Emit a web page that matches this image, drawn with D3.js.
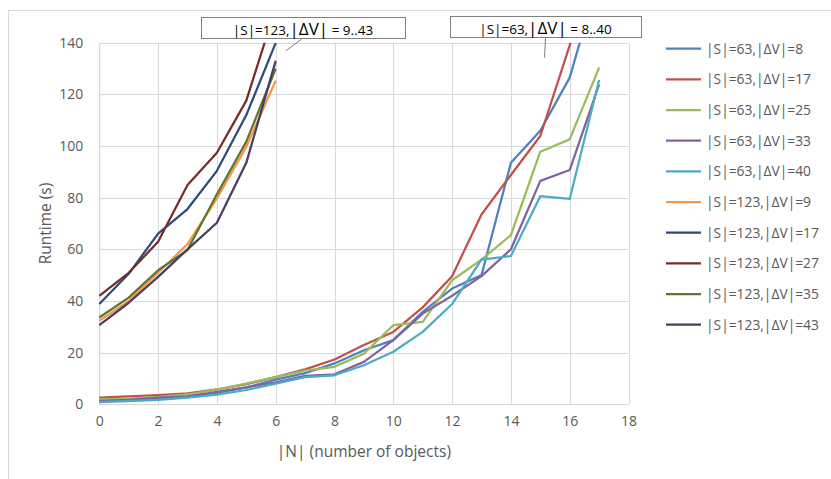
<!DOCTYPE html>
<html><head><meta charset="utf-8">
<script src="https://cdn.jsdelivr.net/npm/d3@7"></script>
<style>
html,body{margin:0;padding:0;background:#fff;}
svg text{font-family:"Open Sans","Noto Sans",sans-serif;fill:#595959;}
</style></head>
<body>
<svg id="chart" width="831" height="479"></svg>
<script>
// ---- data ----
const nLow = [0,1,2,3,4,5,6];
const nHigh = [0,1,2,3,4,5,6,7,8,9,10,11,12,13,14,15,16,17];
const s63dv8  = [1.3,1.7,2.1,3,4.4,6.5,9.5,12,15.8,20.9,24.8,35.8,44.8,50,93.5,105.9,126.5,166];
const s63dv17 = [2.5,3,3.5,4.2,5.7,7.8,10.5,13.5,17.3,22.9,28,37.5,49.6,73.5,88.8,103.9,139,185];
const s63dv25 = [1.9,2.2,2.8,3.8,5.7,8,10.5,13,14.5,19.6,30.6,31.9,48,56,65.5,97.8,102.6,130.4];
const s63dv33 = [1.3,1.7,2.5,3,4.8,6.5,8.5,11,11.6,16.4,24.8,35.1,42,49.6,60,86.5,90.7,123.9];
const s63dv40 = [0.8,1.2,1.7,2.5,3.7,5.5,8,10.5,11.2,15.1,20.3,28,38.8,56,57.4,80.6,79.5,125.6];
const s123dv9  = [32.3,40,50.9,62,79.7,99.7,125.3];
const s123dv17 = [38.8,50.5,66.1,75.6,90.4,112,140];
const s123dv27 = [42,50.9,62.9,84.9,97.4,117.6,153.6];
const s123dv35 = [33.6,41.3,51.9,59.7,81.3,101.7,130];
const s123dv43 = [30.6,39.3,49.3,60,70.3,93.5,133];
const seriesNames = ["|S|=63,|ΔV|=8","|S|=63,|ΔV|=17","|S|=63,|ΔV|=25","|S|=63,|ΔV|=33","|S|=63,|ΔV|=40",
  "|S|=123,|ΔV|=9","|S|=123,|ΔV|=17","|S|=123,|ΔV|=27","|S|=123,|ΔV|=35","|S|=123,|ΔV|=43"];
const seriesValues = [s63dv8,s63dv17,s63dv25,s63dv33,s63dv40,s123dv9,s123dv17,s123dv27,s123dv35,s123dv43];
const seriesX = [nHigh,nHigh,nHigh,nHigh,nHigh,nLow,nLow,nLow,nLow,nLow];
const colors = ["#4F81BD","#C0504D","#9BBB59","#8064A2","#4BACC6","#F79646","#2C4D75","#772C2A","#5F7530","#4D3B62"];
const xTicks = [0,2,4,6,8,10,12,14,16,18];
const yTicks = [0,20,40,60,80,100,120,140];

// ---- layout ----
const svg = d3.select("#chart");
const L = 99.3, R = 628.5, T = 42.8, B = 404.2;
const x = d3.scaleLinear().domain([0,18]).range([L,R]);
const y = d3.scaleLinear().domain([0,140]).range([B,T]);

// outer chart border
svg.append("rect").attr("x",8.5).attr("y",10.5).attr("width",830).attr("height",480)
  .attr("fill","none").attr("stroke","#D9D9D9").attr("stroke-width",1);

// gridlines
const grid = svg.append("g");
grid.selectAll("line.h").data(yTicks).join("line")
  .attr("x1",L).attr("x2",R).attr("y1",d=>Math.round(y(d))+0.5).attr("y2",d=>Math.round(y(d))+0.5)
  .attr("stroke","#D9D9D9").attr("stroke-width",1);
grid.selectAll("line.v").data(xTicks).join("line")
  .attr("y1",T).attr("y2",B).attr("x1",d=>Math.round(x(d))+0.5).attr("x2",d=>Math.round(x(d))+0.5)
  .attr("stroke","#D9D9D9").attr("stroke-width",1);

// axes (labels only, Excel style)
const yAxis = d3.axisLeft(y).tickValues(yTicks).tickSize(0).tickPadding(16);
const gy = svg.append("g").attr("transform",`translate(${L},0)`).call(yAxis);
gy.select(".domain").attr("stroke","#D9D9D9");
gy.selectAll("text").style("font-size","14px").style("font-family","'Open Sans'").attr("fill","#595959");
const xAxis = d3.axisBottom(x).tickValues(xTicks).tickSize(0).tickPadding(12);
const gx = svg.append("g").attr("transform",`translate(0,${B})`).call(xAxis);
gx.select(".domain").attr("stroke","#D9D9D9");
gx.selectAll("text").style("font-size","14px").style("font-family","'Open Sans'").attr("fill","#595959");

// axis titles
svg.append("text").attr("x",(L+R)/2).attr("y",457).attr("text-anchor","middle")
  .style("font-size","15.5px").text("|N| (number of objects)");
svg.append("text").attr("transform",`translate(51,${(T+B)/2}) rotate(-90)`).attr("text-anchor","middle")
  .style("font-size","15.5px").text("Runtime (s)");

// clip
svg.append("clipPath").attr("id","plotclip").append("rect")
  .attr("x",L-2).attr("y",T).attr("width",R-L+4).attr("height",B-T+2);

const line = d3.line().x(d=>x(d[0])).y(d=>y(d[1]));
const plot = svg.append("g").attr("clip-path","url(#plotclip)");
seriesValues.forEach((vals,i)=>{
  const pts = seriesX[i].map((n,j)=>[n,vals[j]]);
  plot.append("path").datum(pts).attr("d",line).attr("fill","none")
    .attr("stroke",colors[i]).attr("stroke-width",2.25).attr("stroke-linejoin","round");
});

// legend
const leg = svg.append("g");
seriesNames.forEach((nm,i)=>{
  const ly = 48.7 + i*30.67;
  leg.append("line").attr("x1",666).attr("x2",701).attr("y1",ly).attr("y2",ly)
    .attr("stroke",colors[i]).attr("stroke-width",2.25);
  leg.append("text").attr("x",706).attr("y",ly+5).style("font-size","13.8px").text(nm);
});

// annotations
function callout(bx,by,bw,bh,parts,lx1,ly1,lx2,ly2){
  svg.append("rect").attr("x",bx+0.5).attr("y",by+0.5).attr("width",bw).attr("height",bh)
    .attr("fill","#fff").attr("stroke","#7F7F7F").attr("stroke-width",1);
  const t = svg.append("text").attr("x",bx+bw/2).attr("y",by+bh-3).attr("text-anchor","middle")
    .style("fill","#000");
  parts.forEach(p=>t.append("tspan").style("font-size",p[1]+"px").style("fill","#000").text(p[0]));
  svg.append("line").attr("x1",lx1).attr("y1",ly1).attr("x2",lx2).attr("y2",ly2)
    .attr("stroke","#7F7F7F").attr("stroke-width",1);
}
callout(201,17,204,21,[["|S|=123,",13.5],["|ΔV|",17],[" = 9..43",13.5]],301.7,39,285.7,51);
callout(450,16,191,21,[["|S|=63,",13.5],["|ΔV|",17],[" = 8..40",13.5]],545.5,38,544.5,57.7);
</script>
</body></html>
